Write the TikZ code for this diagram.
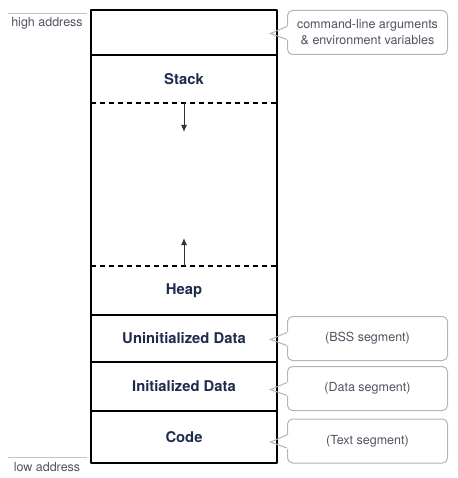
\documentclass[tikz,border=0pt]{standalone}
\usepackage{fontspec}
\setmainfont{TeX Gyre Heros}
\usetikzlibrary{positioning, calc, arrows.meta}
\definecolor{segtext}{HTML}{1E2B4D}
\definecolor{notetext}{HTML}{4E5360}
\definecolor{noteline}{HTML}{B4B4B4}
\definecolor{addrline}{HTML}{C4C4C4}

\tikzset{
  seg/.style={minimum width=186pt, inner sep=0pt, outer sep=0pt, text=segtext,
    font=\bfseries\fontsize{14.8}{17}\selectfont},
  note/.style={draw=noteline, line width=1pt, rounded corners=5pt,
    minimum width=160pt, minimum height=44pt, inner sep=0pt, align=center,
    text=notetext, font=\fontsize{12.5}{16}\selectfont},
  noteedge/.style={draw=noteline, line width=1pt, line join=miter},
  addr/.style={text=notetext, font=\fontsize{12.5}{14}\selectfont},
  border/.style={line width=1.5pt},
  growth/.style={-{Latex[length=7pt,width=6pt]}, line width=1pt, draw=black!80},
}

\begin{document}
\begin{tikzpicture}[x=1pt, y=-1pt, line join=round]
  \useasboundingbox (0,0) rectangle (457,478);

  % memory segments, top to bottom
  \node[seg, minimum height=45pt, anchor=north west] (args) at (91,10) {};
  \node[seg, minimum height=48pt] (stack) [below=0pt of args] {Stack};
  \node[seg, minimum height=163pt] (free) [below=0pt of stack] {};
  \node[seg, minimum height=49pt] (heap) [below=0pt of free] {Heap};
  \node[seg, minimum height=47pt] (bss) [below=0pt of heap] {Uninitialized Data};
  \node[seg, minimum height=49pt] (data) [below=0pt of bss] {Initialized Data};
  \node[seg, minimum height=52pt] (code) [below=0pt of data] {Code};

  \draw[border] (args.north west) rectangle (code.south east);
  \foreach \s in {args, heap, bss, data}
    \draw[border] (\s.south west) -- (\s.south east);
  \draw[line width=1.8pt, dash pattern=on 5pt off 4pt] (free.north west) -- (free.north east);
  \draw[line width=1.8pt, dash pattern=on 5pt off 4pt] (free.south west) -- (free.south east);

  % growth directions
  \coordinate (stacktip) at ($(free.north)+(0,29)$);
  \coordinate (heaptip) at ($(free.south)+(0,-28)$);
  \draw[growth] (free.north) -- (stacktip);
  \draw[growth] (free.south) -- (heaptip);

  % notes
  \node[note, right=10pt of args] (argsnote)
    {command-line arguments\\\& environment variables};
  \node[note, right=10pt of bss] (bssnote) {(BSS segment)};
  \node[note, right=10pt of data, yshift=-2pt] (datanote) {(Data segment)};
  \node[note, right=10pt of code, yshift=-4pt] (codenote) {(Text segment)};
  \foreach \n in {argsnote, bssnote, datanote, codenote} {
    \fill[white] ($(\n.west)+(-1,-6.5)$) rectangle ($(\n.west)+(1.5,7.5)$);
    \draw[noteedge] ($(\n.west)+(0,-6)$) -- ($(\n.west)+(-16.5,1)$) -- ($(\n.west)+(0,7)$);
  }

  % address ends
  \coordinate (hiL) at (8,13);
  \coordinate (hiR) at (87,13);
  \coordinate (loL) at (8,457);
  \coordinate (loR) at (87,457);
  \draw[draw=addrline, line width=0.8pt] (hiL) -- (hiR);
  \draw[draw=addrline, line width=0.8pt] (loL) -- (loR);
  \node[addr] (high) at (47,23) {high address};
  \node[addr] (low) at (47,467) {low address};
\end{tikzpicture}
\end{document}
